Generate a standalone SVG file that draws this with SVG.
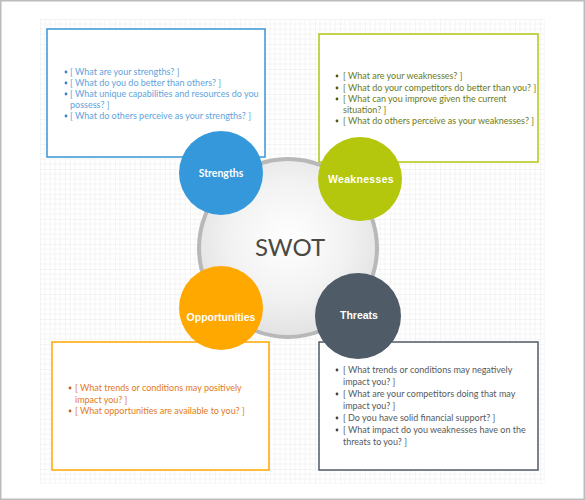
<svg xmlns="http://www.w3.org/2000/svg" width="585" height="500" viewBox="0 0 585 500">
<defs>
<pattern id="grid" patternUnits="userSpaceOnUse" x="40" y="19" width="25" height="25">
<path d="M5 0V25M10 0V25M15 0V25M20 0V25M0 5H25M0 10H25M0 15H25M0 20H25" stroke="#f4f4f4" stroke-width="1" fill="none"/>
<path d="M0 0V25M0 0H25" stroke="#e9e9e9" stroke-width="1" fill="none"/>
</pattern>
<radialGradient id="core" cx="50%" cy="45%" r="55%">
<stop offset="0" stop-color="#ffffff"/>
<stop offset="0.6" stop-color="#f2f2f2"/>
<stop offset="1" stop-color="#e2e2e2"/>
</radialGradient>
</defs>
<style>
.box{fill:#ffffff;stroke-width:1.5}
.q{font-family:Lato,"Open Sans","Liberation Sans",sans-serif;font-size:9px}
.lbl{font-family:"Liberation Sans",Arial,sans-serif;font-weight:bold;font-size:10.5px;fill:#ffffff;text-anchor:middle}
.s{fill:#5fa3dc}.w{fill:#6b7a1a}.o{fill:#e27a1c}.t{fill:#555a60}
</style>
<rect x="0" y="0" width="585" height="500" fill="#ffffff"/>
<rect x="40" y="19" width="505" height="465" fill="url(#grid)"/>
<rect x="0.75" y="0.75" width="583.5" height="498.5" fill="none" stroke="#bcbcbc" stroke-width="1.5"/>

<g id="box-strengths">
<rect class="box" x="47" y="29" width="218" height="128" stroke="#3a95d8"/>
<g class="q s">
<circle cx="66" cy="72" r="1.4" fill="#3a7fc0"/>
<text x="70" y="75">[ What are your strengths? ]</text>
<circle cx="66" cy="83" r="1.4" fill="#3a7fc0"/>
<text x="70" y="86">[ What do you do better than others? ]</text>
<circle cx="66" cy="94" r="1.4" fill="#3a7fc0"/>
<text x="70" y="97">[ What unique capabilities and resources do you</text>
<text x="70" y="108">possess? ]</text>
<circle cx="66" cy="116" r="1.4" fill="#3a7fc0"/>
<text x="70" y="119">[ What do others perceive as your strengths?  ]</text>
</g>
</g>

<g id="box-weaknesses">
<rect class="box" x="319" y="34" width="219" height="128" stroke="#b3c614"/>
<g class="q w">
<circle cx="337" cy="76" r="1.4" fill="#4e5a12"/>
<text x="343" y="79">[ What are your weaknesses? ]</text>
<circle cx="337" cy="88" r="1.4" fill="#4e5a12"/>
<text x="343" y="91">[ What do your competitors do better than you? ]</text>
<circle cx="337" cy="99" r="1.4" fill="#4e5a12"/>
<text x="343" y="102">[ What can you improve given the current</text>
<text x="343" y="113">situation? ]</text>
<circle cx="337" cy="121" r="1.4" fill="#4e5a12"/>
<text x="343" y="124">[ What do others perceive as your weaknesses? ]</text>
</g>
</g>

<g id="box-opportunities">
<rect class="box" x="52" y="342" width="217" height="128" stroke="#ffa600"/>
<g class="q o">
<circle cx="70" cy="388" r="1.4" fill="#c9601a"/>
<text x="75" y="391">[ What trends or conditions may positively</text>
<text x="75" y="403">impact you? ]</text>
<circle cx="70" cy="411" r="1.4" fill="#c9601a"/>
<text x="75" y="414">[ What opportunities are available to you? ]</text>
</g>
</g>

<g id="box-threats">
<rect class="box" x="319" y="342" width="219" height="128" stroke="#4f5a66"/>
<g class="q t">
<circle cx="337" cy="370" r="1.4" fill="#444"/>
<text x="343" y="373">[ What trends or conditions may negatively</text>
<text x="343" y="385">impact you? ]</text>
<circle cx="337" cy="394" r="1.4" fill="#444"/>
<text x="343" y="397">[ What are your competitors doing that may</text>
<text x="343" y="409">impact you? ]</text>
<circle cx="337" cy="418" r="1.4" fill="#444"/>
<text x="343" y="421">[ Do you have solid financial support? ]</text>
<circle cx="337" cy="430" r="1.4" fill="#444"/>
<text x="343" y="433">[ What impact do you weaknesses have on the</text>
<text x="343" y="445">threats to you? ]</text>
</g>
</g>

<g id="connectors"></g>

<g id="swot">
<circle cx="288" cy="248" r="89" fill="url(#core)" stroke="#b8b8b8" stroke-width="4"/>
<text x="290" y="256" font-family="Lato,'Open Sans','Liberation Sans',sans-serif" font-size="24" fill="#4a4a42" text-anchor="middle">SWOT</text>
</g>

<g id="strengths">
<circle cx="221" cy="173" r="42" fill="#3498db"/>
<text class="lbl" x="221" y="177" style="font-family:Lato,'Liberation Sans',sans-serif">Strengths</text>
</g>
<g id="weaknesses">
<circle cx="360" cy="179" r="42" fill="#b4c70c"/>
<text class="lbl" x="361" y="183" letter-spacing="0.3">Weaknesses</text>
</g>
<g id="opportunities">
<circle cx="221" cy="308" r="42" fill="#ffa800"/>
<text class="lbl" x="221" y="321">Opportunities</text>
</g>
<g id="threats">
<circle cx="358" cy="316" r="43" fill="#4f5b66"/>
<text class="lbl" x="359" y="319">Threats</text>
</g>
</svg>
